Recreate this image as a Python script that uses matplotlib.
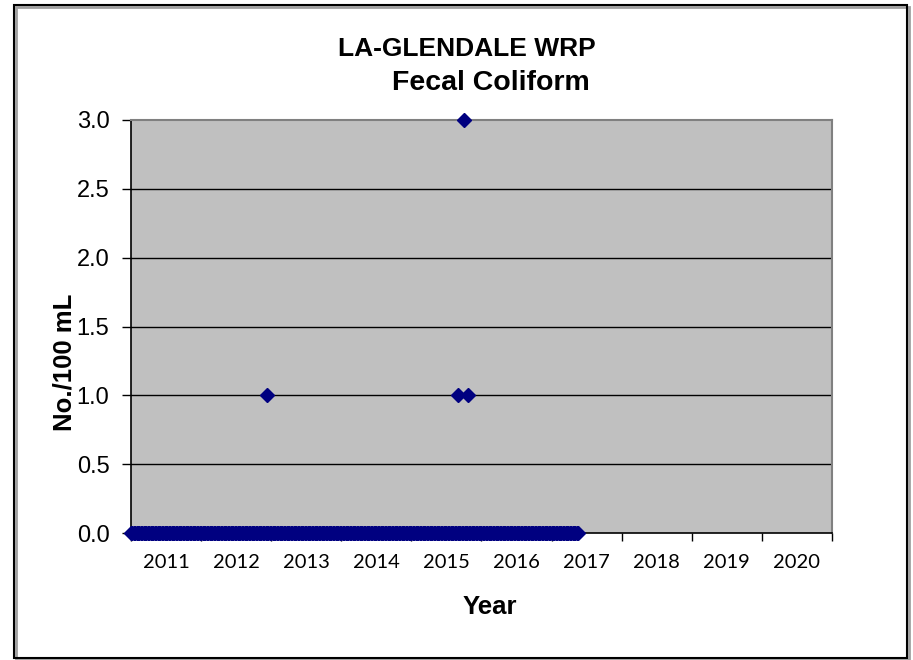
import numpy as np
import matplotlib
matplotlib.use("Agg")
import matplotlib.pyplot as plt
from matplotlib.patches import Rectangle

# ---- data (decimal years) ----
title_lines = ["LA-GLENDALE WRP", "Fecal Coliform"]
year_labels = ["2011", "2012", "2013", "2014", "2015", "2016", "2017", "2018", "2019", "2020"]
y_ticks = [0.0, 0.5, 1.0, 1.5, 2.0, 2.5, 3.0]

# positive detections
detect_dates = [2012.94, 2015.67, 2015.75, 2015.81]
detect_values = [1.0, 1.0, 3.0, 1.0]

# routine samples with zero result (dense, roughly weekly from start to end)
zero_start, zero_end, zero_step = 2011.0, 2017.38, 0.02
zero_dates = np.arange(zero_start, zero_end + 1e-9, zero_step)
zero_values = np.zeros_like(zero_dates)

dates = np.concatenate([zero_dates, detect_dates])
values = np.concatenate([zero_values, detect_values])

# ---- figure ----
W, H = 913, 660
fig = plt.figure(figsize=(W / 100, H / 100), dpi=100)

# outer border with shadow
fig.patches.append(Rectangle((16 / W, 1 - 660 / H), 893 / W, 653 / H, transform=fig.transFigure,
                             facecolor="none", edgecolor="#a0a0a0", lw=2, zorder=0))
fig.patches.append(Rectangle((14 / W, 1 - 658 / H), 893 / W, 653 / H, transform=fig.transFigure,
                             facecolor="none", edgecolor="black", lw=1.5, zorder=1))

left, right, top, bottom = 131, 832, 120, 533
ax = fig.add_axes([left / W, 1 - bottom / H, (right - left) / W, (bottom - top) / H])
ax.set_facecolor("#c0c0c0")

ax.set_xlim(2011, 2021)
ax.set_ylim(0, 3.0)

for yv in y_ticks[1:-1]:
    ax.axhline(yv, color="black", lw=1, zorder=1)

ax.plot(dates, values, linestyle="none", marker="D", markersize=7,
        color="#000080", markeredgecolor="#000080", clip_on=False, zorder=5)

ax.set_yticks(y_ticks)
ax.set_yticklabels([f"{v:.1f}" for v in y_ticks], fontsize=17, family="Liberation Sans")
ax.tick_params(axis="y", direction="out", length=6.5, width=1, pad=9, colors="black")

ax.set_xticks(np.arange(2011, 2022))
ax.set_xticklabels([])
ax.set_xticks(np.arange(2011, 2021) + 0.5, minor=True)
ax.set_xticklabels(year_labels, minor=True, fontsize=14.5, family="Lato")
ax.tick_params(axis="x", which="major", direction="out", length=6, width=1)
ax.tick_params(axis="x", which="minor", length=0, pad=15)

for s in ["top", "right"]:
    ax.spines[s].set_color("#808080")
    ax.spines[s].set_linewidth(1.5)
for s in ["left", "bottom"]:
    ax.spines[s].set_color("black")
    ax.spines[s].set_linewidth(1.2)

fig.text(467 / W, 1 - 49 / H, title_lines[0], ha="center", va="center",
         fontsize=19, fontweight="bold", family="Liberation Sans")
fig.text(491 / W, 1 - 83 / H, title_lines[1], ha="center", va="center",
         fontsize=20.5, fontweight="bold", family="Liberation Sans")
fig.text(64 / W, 1 - 362 / H, "No./100 mL", ha="center", va="center", rotation=90,
         fontsize=18.5, fontweight="bold", family="Liberation Sans")
fig.text(490 / W, 1 - 607 / H, "Year", ha="center", va="center",
         fontsize=18.5, fontweight="bold", family="Liberation Sans")

fig.savefig("out.png", dpi=100, facecolor="white")
